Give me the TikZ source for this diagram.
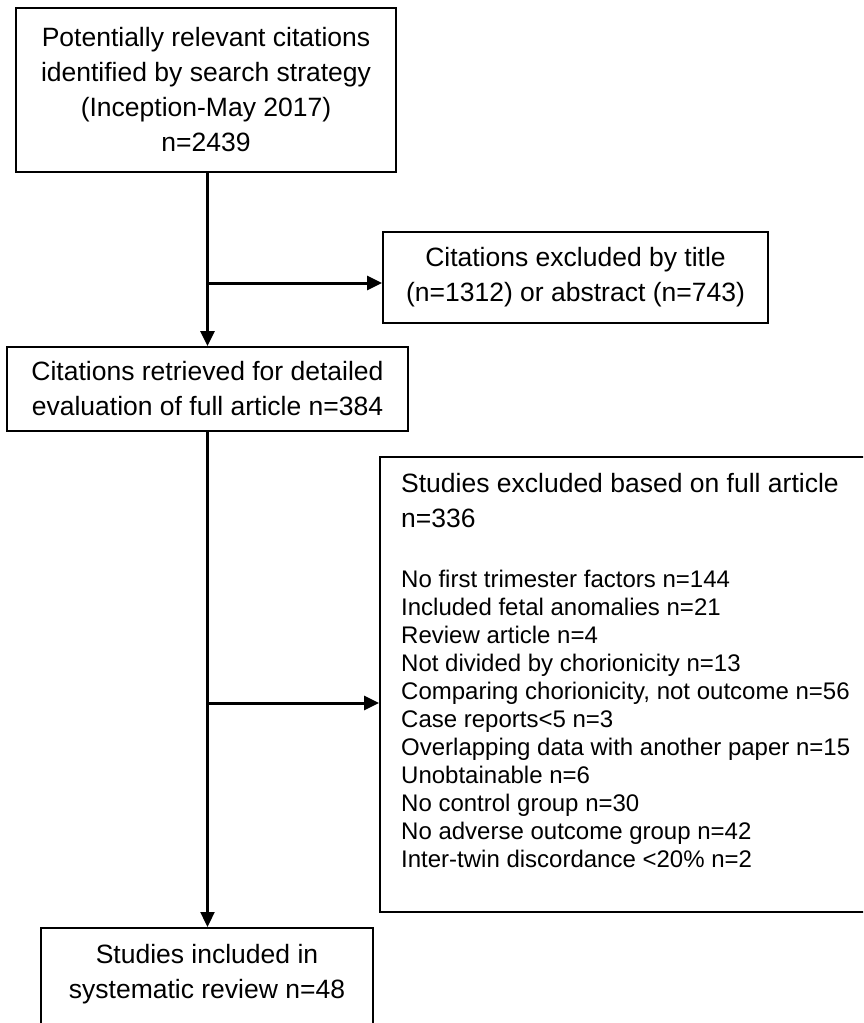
\documentclass[tikz,border=0pt]{standalone}
\usepackage{fontspec}
\setmainfont{Liberation Sans}
\usetikzlibrary{arrows.meta}
\begin{document}
\begin{tikzpicture}[x=1pt,y=-1pt,
  box/.style={draw, line width=2pt, rectangle, inner sep=0pt, align=center,
    font=\fontsize{26.5}{35}\selectfont},
  txt/.style={inner sep=0pt, font=\fontsize{26.5}{35}\selectfont},
  listtxt/.style={inner sep=0pt, align=left, font=\fontsize{24}{28}\selectfont},
  arr/.style={line width=3pt, -{Triangle[length=15pt,width=14pt]}},
  thinarr/.style={line width=2.3pt, -{Triangle[length=15pt,width=14pt]}}]
\clip (0,0) rectangle (863,1023);
% boxes
\node[box, minimum width=380, minimum height=164] (b1) at (206,90)
  {Potentially relevant citations\\identified by search strategy\\(Inception-May 2017)\\n=2439};
\node[box, minimum width=385, minimum height=91] (b2) at (575.5,277.5)
  {Citations excluded by title\\(n=1312) or abstract (n=743)};
\node[box, minimum width=401, minimum height=84] (b3) at (207.5,389)
  {Citations retrieved for detailed\\evaluation of full article n=384};
\node[box, minimum width=520, minimum height=455] (b4) at (640,684.5) {};
\node[box, minimum width=332, minimum height=132] (b5) at (207,994) {};
% texts of the boxes without centred text
\node[txt, anchor=north west, align=left] (t4) at (401,472.7)
  {Studies excluded based on full article\\n=336};
\node[listtxt, anchor=north west] (l4) at (401,569.5)
  {No first trimester factors n=144\\
   Included fetal anomalies n=21\\
   Review article n=4\\
   Not divided by chorionicity n=13\\
   Comparing chorionicity, not outcome n=56\\
   Case reports<5 n=3\\
   Overlapping data with another paper n=15\\
   Unobtainable n=6\\
   No control group n=30\\
   No adverse outcome group n=42\\
   Inter-twin discordance <20\% n=2};
\node[txt, anchor=north, align=center] (t5) at (207,943.7)
  {Studies included in\\systematic review n=48};
% connectors
\coordinate (j1) at (207.5,283);
\coordinate (j2) at (207.5,703);
\draw[arr] (b3.north |- b1.south) -- (b3.north);
\draw[arr] (j1) -- (j1 -| b2.west);
\draw[thinarr] (b3.south) -- (b3.south |- b5.north);
\draw[arr] (j2) -- (j2 -| b4.west);
\end{tikzpicture}
\end{document}
